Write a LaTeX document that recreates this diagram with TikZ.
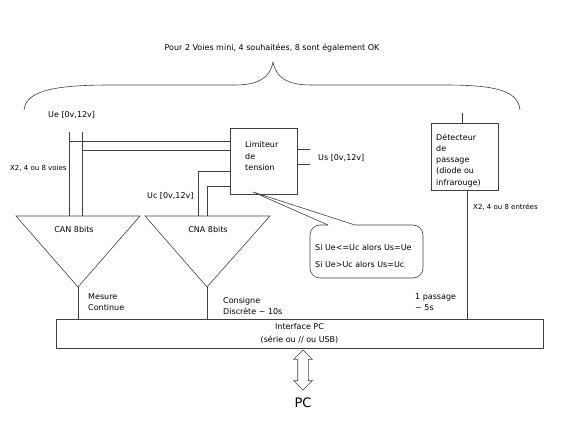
\documentclass[tikz,border=0pt]{standalone}
\usepackage{fontspec}
\setmainfont{DejaVu Sans}
\usepackage{tikz}
\usetikzlibrary{
  calc,
  shapes.arrows
}
\tikzset{>=stealth}
\tikzset{
  wire/.style={draw=black!75, line width=0.6pt},
  box/.style={draw=black!75, line width=0.6pt, rectangle, inner sep=0pt},
  lbl/.style={font=\fontsize{8}{11.5}\selectfont, inner sep=0pt, align=left},
  smalllbl/.style={font=\fontsize{7}{9}\selectfont, inner sep=0pt},
  pcarrowstyle/.style={draw=black!75, line width=0.6pt, double arrow,
    double arrow head extend=4pt, minimum height=40pt,
    inner xsep=0pt, inner ysep=5pt, rotate=90}
}

\begin{document}
\begin{tikzpicture}[x=1pt,y=-1pt]
  \useasboundingbox (0,0) rectangle (567,425);
  % accolade
  \node[lbl] (titre) at (272,48) {Pour 2 Voies mini, 4 souhaitées, 8 sont également OK};
  \draw[wire] (24,110) .. controls (26,92) and (50,85) .. (110,85) -- (235,85)
    .. controls (258,85) and (270,78) .. (273,62)
    .. controls (276,78) and (288,85) .. (311,85) -- (445,85)
    .. controls (500,85) and (518,92) .. (520,110);
  % boites
  \node[box, minimum width=67pt, minimum height=66pt] (lim) at (263.5,161) {};
  \node[lbl, anchor=north west] (limtxt) at (245,141.5) {Limiteur\\de\\tension};
  \node[box, minimum width=67pt, minimum height=67pt] (det) at (464.5,156.5) {};
  \node[lbl, anchor=north west, font=\fontsize{8}{11.3}\selectfont] (dettxt) at (436,133.5)
    {Détecteur\\de\\passage\\(diode ou\\infrarouge)};
  \node[box, minimum width=487pt, minimum height=29pt, align=center,
    font=\fontsize{8}{13}\selectfont] (iface) at (299.5,333.5)
    {Interface PC\\(série ou // ou USB)};
  % convertisseurs
  \coordinate (canL) at (16,216);
  \coordinate (canR) at (140,216);
  \coordinate (canT) at (78,287);
  \coordinate (cnaL) at (145,216);
  \coordinate (cnaR) at (270,216);
  \coordinate (cnaT) at (207,287);
  \draw[wire] (canL) -- (canR) -- (canT) -- cycle;
  \draw[wire] (cnaL) -- (cnaR) -- (cnaT) -- cycle;
  \node[lbl] (canlbl) at (74,230) {CAN 8bits};
  \node[lbl] (cnalbl) at (208,230) {CNA 8bits};
  % entrees Ue et Uc
  \coordinate (ueA) at (69,132);
  \coordinate (ueB) at (82,132);
  \coordinate (ucA) at (198,216);
  \coordinate (ucB) at (207,216);
  \draw[wire] (ueA) -- (ueA |- canL);
  \draw[wire] (ueB) -- (ueB |- canL);
  \draw[wire] (lim.west |- 0,141) -- (ueA |- 0,141);
  \draw[wire] (lim.west |- 0,150) -- (ueB |- 0,150);
  \draw[wire] (lim.west |- 0,171) -| (ucA);
  \draw[wire] (lim.west |- 0,186) -| (ucB);
  % sorties Us
  \coordinate (usA) at (310,149);
  \coordinate (usB) at (310,164);
  \draw[wire] (lim.east |- usA) -- (usA);
  \draw[wire] (lim.east |- usB) -- (usB);
  % vers l'interface
  \draw[wire] (canT) -- (canT |- iface.north);
  \draw[wire] (cnaT) -- (cnaT |- iface.north);
  \coordinate (detin) at (462,113);
  \coordinate (detout) at ([xshift=2.5pt]det.south);
  \draw[wire] (detin) -- (detin |- det.north);
  \draw[wire] (detout) -- (detout |- iface.north);
  % bulle
  \coordinate (bulletip) at (253,192);
  \coordinate (bulleA) at (328,225);
  \coordinate (bulleB) at (355,225);
  \draw[wire, rounded corners=10pt] (bulleB) -- (423,225) -- (423,278) -- (310,278)
    -- (310,225) -- (bulleA);
  \draw[wire] (bulleA) -- (bulletip) -- (bulleB);
  \node[lbl, anchor=north west, font=\fontsize{8}{17}\selectfont] (regle) at (315,244.5)
    {Si Ue<=Uc alors Us=Ue\\Si Ue>Uc alors Us=Uc};
  % PC
  \node[pcarrowstyle] (pcarrow) at (303,370) {};
  \node[font=\fontsize{13}{15}\selectfont, inner sep=0pt] (pc) at (303,403) {PC};
  % etiquettes
  \node[lbl, anchor=west] (ue) at (48,115) {Ue [0v,12v]};
  \node[smalllbl, anchor=west] (voies) at (10,168) {X2, 4 ou 8 voies};
  \node[lbl, anchor=west] (uc) at (147,196) {Uc [0v,12v]};
  \node[lbl, anchor=west] (us) at (318,158) {Us [0v,12v]};
  \node[smalllbl, anchor=west] (entrees) at (473,207) {X2, 4 ou 8 entrées};
  \node[lbl, anchor=north west, font=\fontsize{8}{11}\selectfont] (mesure) at (88,293.5)
    {Mesure\\Continue};
  \node[lbl, anchor=north west, font=\fontsize{8}{10.5}\selectfont] (consigne) at (223,297.5)
    {Consigne\\Discrète \textasciitilde{} 10s};
  \node[lbl, anchor=north west, font=\fontsize{8}{11}\selectfont] (passage) at (415,293.5)
    {1 passage\\\textasciitilde{} 5s};
\end{tikzpicture}
\end{document}
